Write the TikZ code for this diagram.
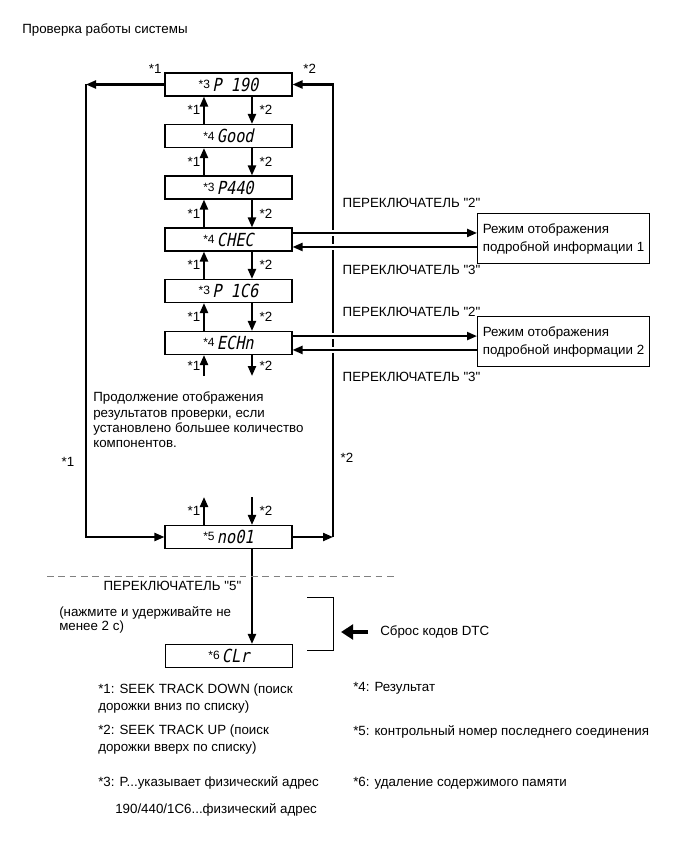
\documentclass[tikz,border=0pt]{standalone}
\usepackage{fontspec}
\setmainfont{Liberation Sans}
\newfontfamily\lcdfont[FakeSlant=0.2,FakeStretch=0.85]{DejaVu Sans Mono}
\usetikzlibrary{arrows.meta}

\newcommand{\lcdtxt}[2]{\raisebox{2pt}{\fontsize{9}{9}\selectfont *#1}\,{\lcdfont\fontsize{13.5}{13.5}\selectfont #2}}
\newcommand{\swlabel}[1]{ПЕРЕКЛЮЧАТЕЛЬ \textquotedbl#1\textquotedbl}

\tikzset{
  lcd/.style={draw, line width=0.8pt, minimum width=95.25pt, minimum height=17.25pt, inner sep=0pt},
  flow/.style={line width=1.6pt, -{Triangle[length=7.5pt,width=6pt]}},
  cross/.style={preaction={draw=white, line width=5pt, -, shorten <=10pt, shorten >=10pt}},
  infobox/.style={draw, line width=0.8pt, align=left, inner xsep=4pt, minimum height=37.5pt, font=\fontsize{10}{13.5}\selectfont},
  lbl/.style={inner sep=2pt},
  rlbl/.style={inner sep=5pt},
  legend/.style={anchor=west, align=left, inner sep=0pt, font=\fontsize{10}{13}\selectfont},
}

\begin{document}
\begin{tikzpicture}[x=0.75pt, y=-0.75pt, font=\fontsize{10}{12}\selectfont]
    \useasboundingbox (0,0) rectangle (692,856);

    % Title
    \node[anchor=west, inner sep=0pt] (title) at (22,30) {Проверка работы системы};

    % display boxes
    \node[lcd] (p190) at (228.5,84.5) {\lcdtxt{3}{P 190}};
    \node[lcd] (good) at (228.5,136) {\lcdtxt{4}{Good}};
    \node[lcd] (p440) at (228.5,187.5) {\lcdtxt{3}{P440}};
    \node[lcd] (chec) at (228.5,239.5) {\lcdtxt{4}{CHEC}};
    \node[lcd] (p1c6) at (228.5,291) {\lcdtxt{3}{P 1C6}};
    \node[lcd] (echn) at (228.5,343) {\lcdtxt{4}{ECHn}};
    \node[lcd] (no01) at (228.5,537) {\lcdtxt{5}{no01}};
    \node[lcd] (clr) at (229,656) {\lcdtxt{6}{CLr}};

    % up / down steps
    \foreach \a/\b in {p190/good,good/p440,p440/chec,chec/p1c6,p1c6/echn}{
        \draw[flow] ([xshift=-18.4pt]\b.north) -- node[left,lbl]{*1} ([xshift=-18.4pt]\a.south);
        \draw[flow] ([xshift=17.6pt]\a.south) -- node[right,rlbl]{*2} ([xshift=17.6pt]\b.north);
    }

    \coordinate (upin) at (204,376);
    \coordinate (downout) at (252,376);
    \draw[flow] (upin) -- node[left,lbl]{*1} (upin |- echn.south);
    \draw[flow] (downout |- echn.south) -- node[right,rlbl]{*2} (downout);

    \node[anchor=west, align=left, inner sep=0pt, font=\fontsize{10}{11.5}\selectfont] (more) at (93,420)
        {Продолжение отображения\\результатов проверки, если\\установлено большее количество\\компонентов.};

    \coordinate (upout) at (204,497);
    \coordinate (downin) at (252,497);
    \draw[flow] (upout |- no01.north) -- node[left,lbl]{*1} (upout);
    \draw[flow] (downin) -- node[right,rlbl]{*2} (downin |- no01.north);

    % outer loops
    \coordinate (lt) at (86,84.5);
    \coordinate (rt) at (333,84.5);
    \draw[flow] (p190.west) -- (p190.west -| lt);
    \draw[flow] (p190.west -| lt) -- (no01.west -| lt) -- (no01.west);
    \draw[flow] (no01.east) -- (no01.east -| rt);
    \draw[flow] (no01.east -| rt) -- (p190.east -| rt) -- (p190.east);

    \node[lbl, anchor=east] (t1) at ([yshift=2.5pt]p190.north west) {*1};
    \node[lbl, anchor=west] (t2) at ([xshift=6pt,yshift=2.5pt]p190.north east) {*2};
    \node (s1) at (68,462) {*1};
    \node (s2) at (347,458) {*2};

    % detail modes
    \node[infobox, anchor=north west] (det1) at (477,213) {Режим отображения\\подробной информации 1};
    \node[infobox, anchor=north west] (det2) at (477,316) {Режим отображения\\подробной информации 2};

    \draw[flow, cross] ([yshift=4.9pt]chec.east) -- ([yshift=4.9pt]chec.east -| det1.west);
    \draw[flow, cross] ([yshift=-5.6pt]chec.east -| det1.west) -- ([yshift=-5.6pt]chec.east);
    \draw[flow, cross] ([yshift=5.2pt]echn.east) -- ([yshift=5.2pt]echn.east -| det2.west);
    \draw[flow, cross] ([yshift=-5.2pt]echn.east -| det2.west) -- ([yshift=-5.2pt]echn.east);

    \node[anchor=west] (sw2a) at (338,203) {\swlabel{2}};
    \node[anchor=west] (sw3a) at (338,270) {\swlabel{3}};
    \node[anchor=west] (sw2b) at (338,312) {\swlabel{2}};
    \node[anchor=west] (sw3b) at (338,377) {\swlabel{3}};

    % clearing
    \draw[flow] ([xshift=17.6pt]no01.south) -- ([xshift=17.6pt]no01.south |- clr.north);
    \coordinate (sepL) at (47,576);
    \coordinate (sepR) at (398,576);
    \draw[gray, line width=0.6pt, dash pattern=on 5pt off 3.5pt] (sepL) -- (sepR);

    \node[anchor=east] (sw5) at (246,586) {\swlabel{5}};
    \node[anchor=west, align=left, inner sep=0pt, font=\fontsize{10}{11}\selectfont] (hold) at (59,620)
        {(нажмите и удерживайте не\\менее 2 с)};

    \coordinate (brA) at (307,597);
    \coordinate (brB) at (333,650);
    \draw[line width=0.6pt] (brA) -- (brA -| brB) -- (brB) -- (brB -| brA);

    \node[anchor=west, inner sep=0pt] (reset) at (380,632) {Сброс кодов DTC};
    \draw[line width=3.4pt, -{Triangle[length=9pt,width=11pt]}] ([xshift=-9pt]reset.west) -- ++(-27,0);

    % legend
    \node[legend] (n1) at (98,698.5) {*1: SEEK TRACK DOWN (поиск\\дорожки вниз по списку)};
    \node[legend] (n2) at (98,739.5) {*2: SEEK TRACK UP (поиск\\дорожки вверх по списку)};
    \node[legend] (n3) at (98,783) {*3: P...указывает физический адрес};
    \node[legend] (n3b) at (115,810) {190/440/1C6...физический адрес};
    \node[legend] (n4) at (353,688) {*4: Результат};
    \node[legend] (n5) at (353,732) {*5: контрольный номер последнего соединения};
    \node[legend] (n6) at (353,783) {*6: удаление содержимого памяти};
\end{tikzpicture}
\end{document}
